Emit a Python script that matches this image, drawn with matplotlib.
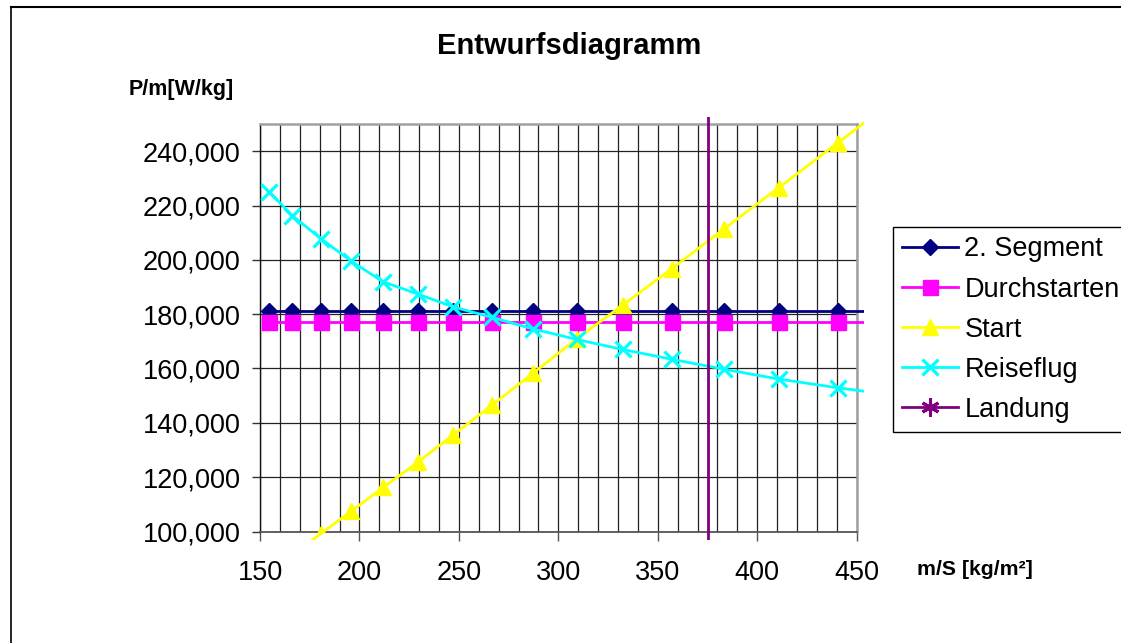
import numpy as np
import matplotlib
matplotlib.use('Agg')
import matplotlib.pyplot as plt
from matplotlib.lines import Line2D
from matplotlib.ticker import FuncFormatter, MultipleLocator
from matplotlib.transforms import Bbox, TransformedBbox

plt.rcParams['font.family'] = ['Liberation Sans', 'DejaVu Sans']

# wing loading m/S [kg/m^2], shared by all series
wing_loading = [154.7, 166.2, 180.6, 195.7, 211.9, 229.4, 247.0, 266.8,
                287.1, 309.2, 332.3, 357.1, 383.5, 410.9, 440.4, 472.0]
segment2 = [181000] * 16
durchstarten = [177200] * 16
start = [85100, 91400, 99200, 107400, 116200, 125500, 135500, 146600,
         158200, 170900, 183300, 196800, 211500, 226600, 243000, 260500]
reiseflug = [225000, 216300, 207800, 199600, 191900, 187400, 182700, 178800,
             174600, 170700, 167000, 163400, 159700, 156100, 152900, 149900]
landung_x = [375, 375]
landung_y = [0, 300000]

series = [
    ('2. Segment', wing_loading, segment2, '#000080', 'D', 7.8, 1),
    ('Durchstarten', wing_loading, durchstarten, '#FF00FF', 's', 10.8, 1),
    ('Start', wing_loading, start, '#FFFF00', '^', 11.5, 1),
    ('Reiseflug', wing_loading, reiseflug, '#00FFFF', 'x', 11.5, 2.3),
    ('Landung', landung_x, landung_y, '#800080', (6, 2, 0), 13, 2.2),
]

W, H = 1121, 643
def fx(px):
    return px / W
def fy(py):
    return 1 - py / H

fig = plt.figure(figsize=(W / 100, H / 100), dpi=100)
ax_l, ax_r, ax_t, ax_b = 260, 856.7, 124, 531.5
ax = fig.add_axes([fx(ax_l), fy(ax_b), (ax_r - ax_l) / W, (ax_b - ax_t) / H])

ax.set_xlim(150, 450)
ax.set_ylim(100000, 250000)
ax.xaxis.set_major_locator(MultipleLocator(50))
ax.xaxis.set_minor_locator(MultipleLocator(10))
ax.set_yticks(np.arange(100000, 240001, 20000))
ax.yaxis.set_major_formatter(FuncFormatter(lambda v, p: '{:,.0f}'.format(v)))

ax.grid(which='both', axis='x', color='#222222', lw=0.9)
ax.grid(which='major', axis='y', color='#222222', lw=0.9)
ax.set_axisbelow(True)

ax.tick_params(axis='x', which='major', direction='out', length=6.5, width=1,
               color='#555555', labelsize=19.5, pad=14)
ax.tick_params(axis='x', which='minor', length=0)
ax.tick_params(axis='y', direction='out', length=5.8, width=1,
               color='#333333', labelsize=19.5, pad=8)

for s in ['top', 'right']:
    ax.spines[s].set_color('#a0a0a0')
    ax.spines[s].set_linewidth(1.8)
ax.spines['left'].set_color('#111111')
ax.spines['bottom'].set_color('#555555')
ax.spines['left'].set_linewidth(1.0)
ax.spines['bottom'].set_linewidth(1.3)

# lines may run a few pixels past the plot area, markers may not
pw, ph = ax_r - ax_l, ax_b - ax_t
ext = TransformedBbox(Bbox.from_extents(-8 / pw, -8.5 / ph, 1 + 7 / pw, 1 + 7 / ph),
                      ax.transAxes)

handles = []
for i, (name, xs, ys, col, mk, msz, mew) in enumerate(series):
    ln, = ax.plot(xs, ys, color=col, lw=2.0, zorder=3 + i)
    ln.set_clip_box(ext)
    ax.plot(xs, ys, ls='none', marker=mk, ms=msz, color=col, mec=col,
            mew=mew, zorder=3 + i)
    handles.append(Line2D([], [], color=col, lw=2.0, marker=mk, ms=msz,
                          mec=col, mew=mew))

leg = fig.legend(handles, [s[0] for s in series], loc='upper left',
                 bbox_to_anchor=(fx(892.7), fy(227)), fontsize=19.5,
                 frameon=True, fancybox=False, edgecolor='black', framealpha=1,
                 borderpad=0.35, labelspacing=0.52, handlelength=2.05,
                 handletextpad=0.25, borderaxespad=0)
leg.get_frame().set_linewidth(1.0)

fig.text(fx(569), fy(54), 'Entwurfsdiagramm', fontsize=21, fontweight='bold',
         ha='center', va='baseline')
fig.text(fx(181.5), fy(95), 'P/m[W/kg]', fontsize=15.5, fontweight='bold',
         ha='center', va='baseline')
fig.text(fx(974.7), fy(575), 'm/S [kg/m²]', fontsize=15.3, fontweight='bold',
         ha='center', va='baseline')

# outer chart border (only top and left edges lie inside the picture)
fig.add_artist(Line2D([fx(10.7), 1.0], [fy(6.5), fy(6.5)],
                      transform=fig.transFigure, color='black', lw=1.5))
fig.add_artist(Line2D([fx(10.7), fx(10.7)], [fy(6.5), 0.0],
                      transform=fig.transFigure, color='black', lw=1.2))

fig.savefig('out.png', dpi=100)
